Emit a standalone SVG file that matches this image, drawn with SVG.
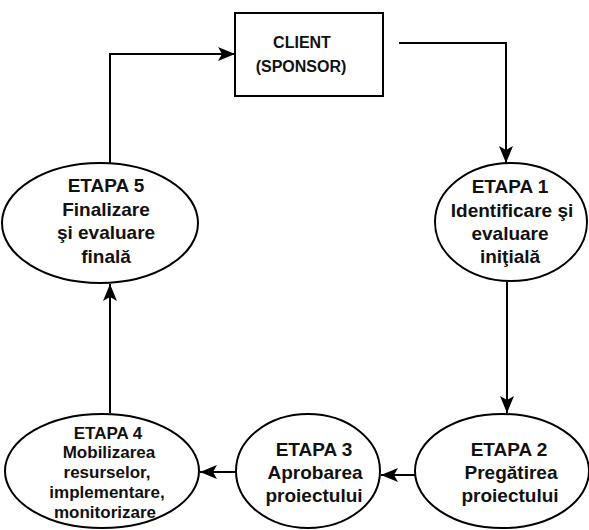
<svg xmlns="http://www.w3.org/2000/svg" width="589" height="530" viewBox="0 0 589 530">
  <defs>
    <marker id="arrow" viewBox="0 0 17 14" refX="17" refY="7" markerWidth="17" markerHeight="14" markerUnits="userSpaceOnUse" orient="auto">
      <path d="M0,0 L17,7 L0,14 L4,7 Z" fill="#000"/>
    </marker>
    <style>
      .node { fill: #fff; stroke: #000; stroke-width: 2; }
      .conn { fill: none; stroke: #000; stroke-width: 2; marker-end: url(#arrow); }
      text { font-family: "Liberation Sans", Arial, sans-serif; font-weight: bold; fill: #111; text-anchor: middle; }
      .t { font-size: 19px; }
      .s { font-size: 17px; }
      .c { font-size: 16px; }
    </style>
  </defs>

  <rect width="589" height="530" fill="#fff"/>

  <!-- connectors -->
  <g id="connectors">
    <path class="conn" d="M399,43 H506 V163"/>
    <path class="conn" d="M507,282 V413"/>
    <path class="conn" d="M415,475 H381"/>
    <path class="conn" d="M236,472 H200"/>
    <path class="conn" d="M110,413 V284"/>
    <path class="conn" d="M110,163 V54 H235"/>
  </g>

  <!-- client box -->
  <g id="client">
    <rect class="node" x="235" y="13" width="148" height="83"/>
    <text class="c" x="302" y="48">CLIENT</text>
    <text class="c" x="301" y="72">(SPONSOR)</text>
  </g>

  <!-- stage 1 -->
  <g id="etapa1">
    <ellipse class="node" cx="511" cy="222" rx="76" ry="59"/>
    <text class="t" x="510" y="193">ETAPA 1</text>
    <text class="t" x="512" y="217">Identificare şi</text>
    <text class="t" x="510" y="240">evaluare</text>
    <text class="t" x="510" y="263">iniţială</text>
  </g>

  <!-- stage 2 -->
  <g id="etapa2">
    <ellipse class="node" cx="502" cy="471" rx="87" ry="57"/>
    <text class="t" x="509" y="456">ETAPA 2</text>
    <text class="t" x="511" y="479">Pregătirea</text>
    <text class="t" x="510" y="502">proiectului</text>
  </g>

  <!-- stage 3 -->
  <g id="etapa3">
    <ellipse class="node" cx="308" cy="471" rx="72" ry="57"/>
    <text class="t" x="314" y="456">ETAPA 3</text>
    <text class="t" x="315" y="479">Aprobarea</text>
    <text class="t" x="314" y="502">proiectului</text>
  </g>

  <!-- stage 4 -->
  <g id="etapa4">
    <ellipse class="node" cx="102" cy="471" rx="97" ry="57"/>
    <text class="s" x="108" y="439">ETAPA 4</text>
    <text class="s" x="109" y="458">Mobilizarea</text>
    <text class="s" x="107" y="478">resurselor,</text>
    <text class="s" x="107" y="498">implementare,</text>
    <text class="s" x="105" y="518">monitorizare</text>
  </g>

  <!-- stage 5 -->
  <g id="etapa5">
    <ellipse class="node" cx="100" cy="223" rx="98" ry="60"/>
    <text class="t" x="106" y="192">ETAPA 5</text>
    <text class="t" x="106" y="216">Finalizare</text>
    <text class="t" x="106" y="239">şi evaluare</text>
    <text class="t" x="106" y="263">finală</text>
  </g>
</svg>
